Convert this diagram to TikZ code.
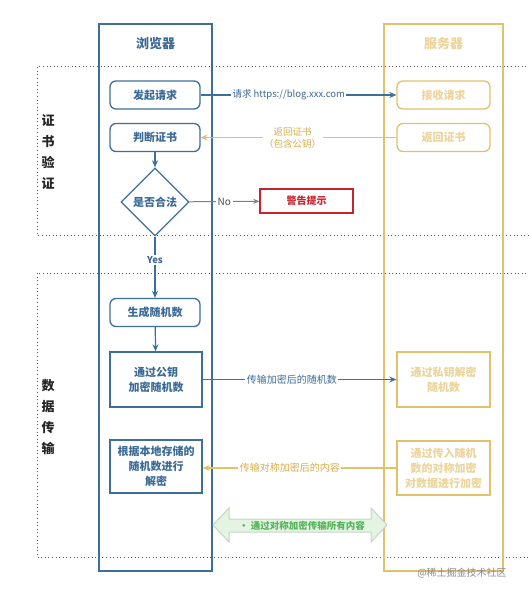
\documentclass[tikz,border=0pt]{standalone}
\usepackage{fontspec}
\setmainfont{Noto Sans CJK SC}
\usetikzlibrary{arrows.meta,shapes.geometric}
\definecolor{bl}{HTML}{3D6F9E}
\definecolor{bltext}{HTML}{3C6A96}
\definecolor{gd}{HTML}{E3C168}
\definecolor{gdtext}{HTML}{ECD49A}
\definecolor{gdlabel}{HTML}{D8AE48}
\definecolor{rd}{HTML}{C8232C}
\definecolor{gr}{HTML}{55B35A}
\definecolor{grfill}{HTML}{E4F4E3}
\definecolor{grline}{HTML}{C5D6C5}
\definecolor{dotc}{HTML}{555555}
\begin{document}
\begin{tikzpicture}[x=1pt,y=-1pt,
  every node/.style={inner sep=1pt},
  bbox/.style={draw=bl, line width=1.3pt, rounded corners=6pt, minimum width=90pt, minimum height=28pt, fill=white, text=bltext, font=\fontsize{11}{15}\selectfont\bfseries, align=center},
  bsq/.style={draw=bl, line width=1.3pt, minimum width=92pt, fill=white, text=bltext, font=\fontsize{11}{15}\selectfont\bfseries, align=center},
  sbox/.style={draw=gd, line width=1.3pt, rounded corners=6pt, minimum width=93pt, minimum height=28pt, fill=white, text=gdtext, font=\fontsize{11}{15}\selectfont\bfseries, align=center},
  ssq/.style={draw=gd, line width=1.3pt, minimum width=93pt, fill=white, text=gdtext, font=\fontsize{11}{15}\selectfont\bfseries, align=center},
  barrow/.style={draw=bl, line width=1.2pt, -{Stealth[length=7pt,width=6pt]}},
  garrow/.style={draw=gd, line width=1.2pt, -{Stealth[length=7pt,width=6pt]}},
  grayarrow/.style={draw=gray, line width=1pt, -{Stealth[length=6pt,width=5pt]}},
  dotline/.style={draw=dotc, line width=1pt, dash pattern=on 1pt off 2.6pt},
  lbl/.style={fill=white, font=\fontsize{10}{12}\selectfont, inner sep=1.5pt},
  sect/.style={font=\fontsize{13}{21}\selectfont\bfseries, align=center, text=black!85}
]
\useasboundingbox (0,0) rectangle (528,594);
\fill[white] (0,0) rectangle (528,594);

% dotted sections
\draw[dotline] (530,67) -- (37,67) -- (37,235) -- (530,235);
\draw[dotline] (530,273) -- (37,273) -- (37,557) -- (530,557);
\node[sect] (s1) at (48,152) {证\\书\\验\\证};
\node[sect] (s2) at (48,417) {数\\据\\传\\输};

% lanes
\draw[bl, line width=2pt] (99,24) rectangle (212,571);
\draw[gd, line width=2pt] (384,24) rectangle (503,571);
\node[text=bltext, font=\fontsize{13}{15}\selectfont\bfseries] (tb) at (155.5,44) {浏览器};
\node[text=gdtext, font=\fontsize{13}{15}\selectfont\bfseries] (ts) at (443.5,44) {服务器};

% browser nodes
\node[bbox] (req) at (155,95) {发起请求};
\node[bbox] (judge) at (155,137.5) {判断证书};
\node[draw=bl, line width=1.3pt, diamond, aspect=1, minimum width=68pt, minimum height=68pt, inner sep=0pt, fill=white, text=bltext, font=\fontsize{11}{15}\selectfont\bfseries] (legal) at (155,202) {是否合法};
\node[draw=rd, line width=1.3pt, minimum width=93pt, minimum height=24pt, fill=white, text=rd, font=\fontsize{10}{12}\selectfont\bfseries] (warn) at (306.5,201) {警告提示};
\node[bbox] (gen) at (155,312.5) {生成随机数};
\node[bsq, minimum height=55pt] (enc) at (156,379.5) {通过公钥\\加密随机数};
\node[bsq, minimum height=53pt] (dec) at (156,466.5) {根据本地存储的\\随机数进行\\解密};

% server nodes
\node[sbox] (recv) at (443.5,95) {接收请求};
\node[sbox] (ret) at (443.5,137.5) {返回证书};
\node[ssq, minimum height=55pt] (pdec) at (443.5,379.5) {通过私钥解密\\随机数};
\node[ssq, minimum height=54pt] (senc) at (443.5,468) {通过传入随机\\数的对称加密\\对数据进行加密};

% connectors
\draw[barrow] (req) -- node[lbl, text=bltext, pos=0.45, font=\fontsize{9.5}{12}\selectfont] {请求 https://blog.xxx.com} (recv);
\draw[garrow] (ret) -- node[lbl, text=gdlabel, align=center, pos=0.53, font=\fontsize{9.5}{12}\selectfont] {返回证书\\（包含公钥）} (judge);
\draw[barrow] (judge) -- (legal);
\draw[grayarrow] (legal) -- node[lbl, text=black!70] {No} (warn);
\draw[barrow] (legal) -- node[lbl, text=bltext, pos=0.38, font=\fontsize{9.5}{12}\selectfont\bfseries] {Yes} (gen);
\draw[barrow] (gen) -- (enc);
\draw[barrow] (enc) -- node[lbl, text=bltext, pos=0.46] {传输加密后的随机数} (pdec);
\draw[garrow] (senc.west) -- node[lbl, text=gdlabel, pos=0.55] {传输对称加密后的内容} (senc.west -| dec.east);

% green double arrow
\filldraw[fill=grfill, draw=grline, line width=1pt]
  (213,525) -- (229,508) -- (229,519) -- (371,519) -- (371,508) -- (387,525)
  -- (371,542) -- (371,532) -- (229,532) -- (229,542) -- cycle;
\node[text=gr, font=\fontsize{9.5}{12}\selectfont\bfseries] (sym) at (302,525.5) {• 通过对称加密传输所有内容};

% watermark
\node[text=black!45, font=\fontsize{10}{12}\selectfont] (wm) at (462,573) {@稀土掘金技术社区};
\end{tikzpicture}
\end{document}
